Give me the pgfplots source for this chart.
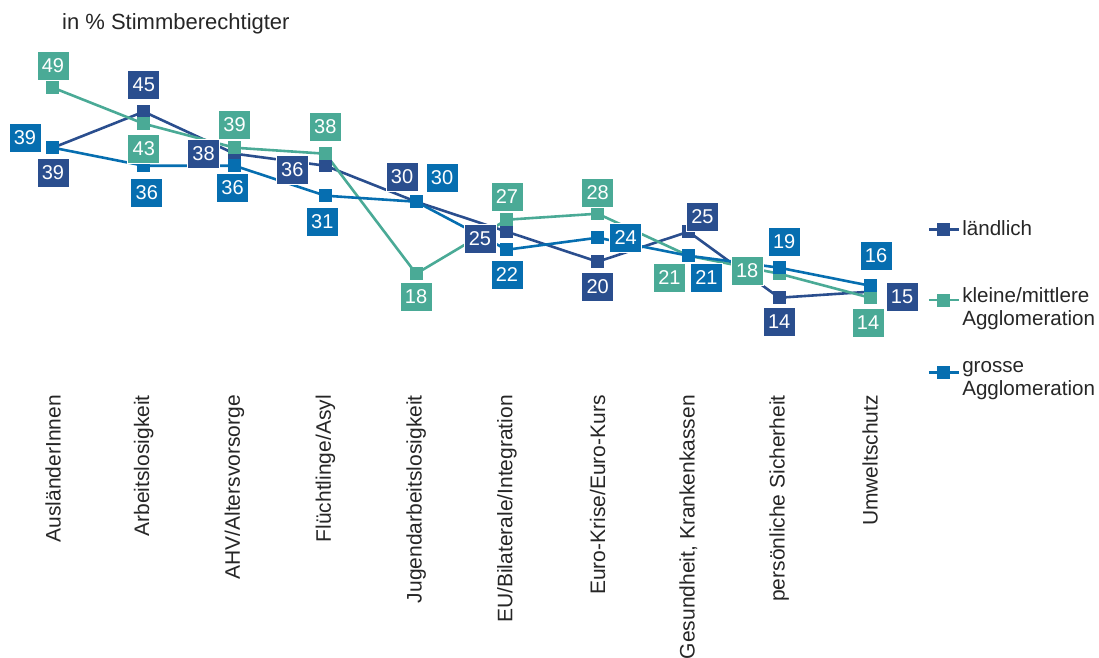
\documentclass[border=0pt]{standalone}
\usepackage{pgfplots}
\usepackage{pgfplotstable}
\pgfplotsset{compat=1.18}
\usepackage{fontspec}
\setmainfont{Liberation Sans}
\definecolor{cDark}{RGB}{42,78,142}
\definecolor{cTeal}{RGB}{74,170,150}
\definecolor{cBlue}{RGB}{6,110,176}

\pgfplotstableread{
x y dx dy
0 39 0 -25
1 45 0 27
2 38 -31 0
3 36 -33 -4
4 30 -14 25
5 25 -27 -7
6 20 0 -25
7 25 14 15
8 14 0 -24
9 15 32 -5
}\dataL
\pgfplotstableread{
x y dx dy
0 49 0 22
1 43 0 -25
2 39 0 23
3 38 0 27
4 18 0 -23
5 27 0 23
6 28 0 21
7 21 -19 -22
8 18 -32 3
9 14 -2 -25
}\dataK
\pgfplotstableread{
x y dx dy
0 39 -28 10
1 36 3 -27
2 36 -2 -22
3 31 -3 -26
4 30 26 24
5 22 0 -25
6 24 28 0
7 21 18 -22
8 19 5 26
9 16 6 30
}\dataG

\newcommand{\bigfont}{\fontsize{20}{23}\selectfont}
\newcommand{\tickfont}{\fontsize{21}{24}\selectfont}
\newcommand{\legfont}{\fontsize{20.6}{23.5}\selectfont}
\newcommand{\titfont}{\fontsize{22}{25}\selectfont}

\pgfplotsset{
  ser/.style={color=#1, line width=2.6pt, mark=square*, mark size=6pt,
    mark options={solid, fill=#1, draw=#1, line width=0pt}},
}

\begin{document}
\begin{tikzpicture}
\begin{axis}[
  at={(0pt,262pt)}, anchor=south west,
  scale only axis, width=1099pt, height=395pt,
  xmin=-0.5838, xmax=11.5226,
  ymin=-2.217, ymax=63.617,
  axis x line=bottom, axis y line=none,
  axis line style={draw=none},
  major tick length=0pt, ytick=\empty,
  xtick={0,...,9},
  xticklabels={AusländerInnen, Arbeitslosigkeit, AHV/Altersvorsorge, Flüchtlinge/Asyl, Jugendarbeitslosigkeit, EU/Bilaterale/Integration, Euro-Krise/Euro-Kurs, {Gesundheit, Krankenkassen}, persönliche Sicherheit, Umweltschutz},
  xticklabel style={rotate=90, anchor=east, inner sep=0pt, font=\tickfont, text=black!85},
  /pgf/number format/assume math mode=true,
  clip=false,
  legend style={at={(axis cs:9.6,27.6)}, anchor=north west, draw=none, fill=none,
    font=\legfont, text=black!85, row sep=30pt, cells={align=left}},
  legend cell align=left,
  legend image code/.code={\draw[mark repeat=2,mark phase=2,#1] plot coordinates {(0pt,7pt)(15pt,7pt)(30pt,7pt)};},
]
\addplot[ser=cDark] table[x=x,y=y] {\dataL};
\addlegendentry[text depth=18pt]{ländlich}
\addplot[ser=cTeal] table[x=x,y=y] {\dataK};
\addlegendentry{kleine/mittlere\\Agglomeration}
\addplot[ser=cBlue] table[x=x,y=y] {\dataG};
\addlegendentry{grosse\\Agglomeration}

\addplot[draw=none, mark=none, forget plot, nodes near coords,
    visualization depends on={\thisrow{dx}\as\labdx},
    visualization depends on={\thisrow{dy}\as\labdy},
    nodes near coords style={fill=cDark, text=white, draw=white, line width=0.6pt,
      minimum width=32pt, minimum height=29pt, inner sep=0pt, anchor=center,
      font=\bigfont, xshift=\labdx pt, yshift=\labdy pt}] table[x=x,y=y] {\dataL};
\addplot[draw=none, mark=none, forget plot, nodes near coords,
    visualization depends on={\thisrow{dx}\as\labdx},
    visualization depends on={\thisrow{dy}\as\labdy},
    nodes near coords style={fill=cTeal, text=white, draw=white, line width=0.6pt,
      minimum width=32pt, minimum height=29pt, inner sep=0pt, anchor=center,
      font=\bigfont, xshift=\labdx pt, yshift=\labdy pt}] table[x=x,y=y] {\dataK};
\addplot[draw=none, mark=none, forget plot, nodes near coords,
    visualization depends on={\thisrow{dx}\as\labdx},
    visualization depends on={\thisrow{dy}\as\labdy},
    nodes near coords style={fill=cBlue, text=white, draw=white, line width=0.6pt,
      minimum width=32pt, minimum height=29pt, inner sep=0pt, anchor=center,
      font=\bigfont, xshift=\labdx pt, yshift=\labdy pt}] table[x=x,y=y] {\dataG};

\node[anchor=west, font=\titfont, text=black!85, inner sep=0pt] at (axis cs:0.099,59.7) {in \% Stimmberechtigter};
\end{axis}
\pgfresetboundingbox
\path (0pt,0pt) rectangle (1099pt,657pt);
\end{tikzpicture}
\end{document}
